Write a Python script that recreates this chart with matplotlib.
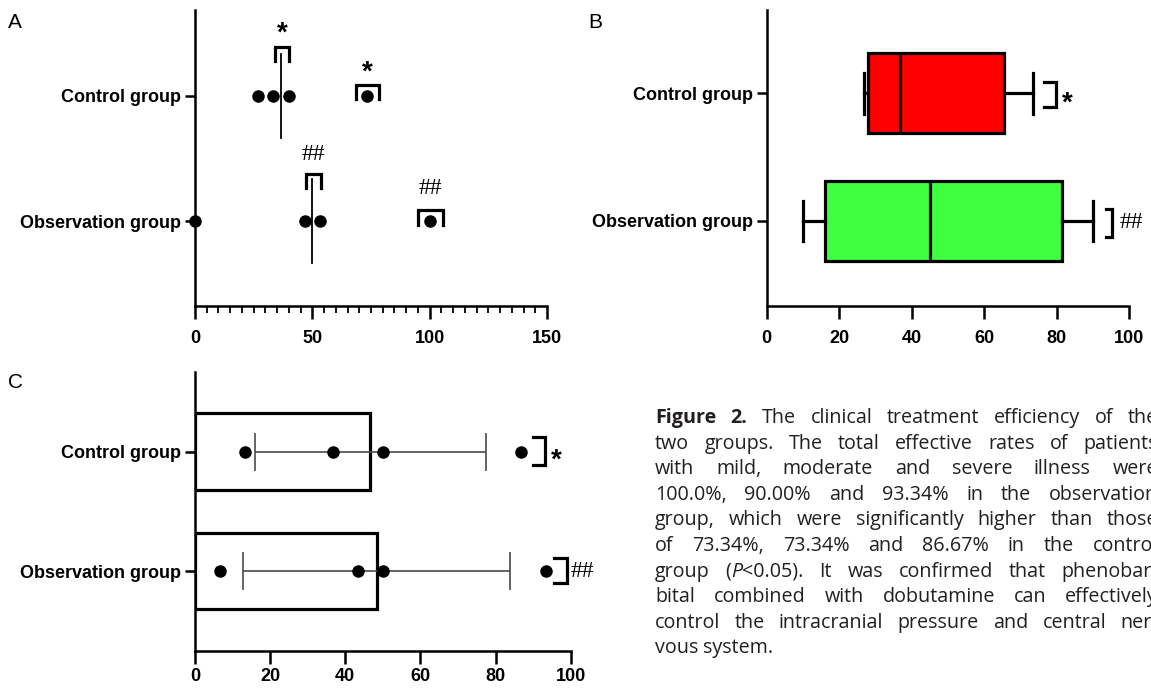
import re
import numpy as np
import matplotlib
matplotlib.use("Agg")
import matplotlib.pyplot as plt
from matplotlib.ticker import MultipleLocator

# Tamaño de la figura en píxeles
W, H = 1151, 688

# Datos
grupos = ["Observation group", "Control group"]   # y = 0, 1

# Panel A: puntos por grupo
a_control = [26.7, 33.3, 40.0, 73.3]
a_observacion = [0.0, 46.7, 53.3, 100.0]

# Panel B: estadísticos de caja
b_control = dict(whislo=26.7, q1=27.8, med=36.7, q3=65.5, whishi=73.4)
b_observacion = dict(whislo=10.0, q1=16.2, med=45.0, q3=81.4, whishi=90.0)

# Panel C: puntos, barra = media, error = SD
c_control = [13.3, 36.7, 50.0, 86.7]
c_observacion = [6.7, 43.3, 50.0, 93.3]

# Anotaciones (x0, x1, y_arriba, y_abajo) y signos (texto, x, y)
a_corchetes = [(34.3, 40.0, 1.394, 1.28), (68.7, 78.2, 1.088, 0.976),
               (47.2, 53.8, 0.376, 0.264), (95.0, 105.5, 0.088, -0.032)]
a_signos = [("*", 37.1, 1.544), ("*", 73.3, 1.234),
            ("##", 50.3, 0.528), ("##", 100.2, 0.264)]
b_corchetes = [(76.5, 79.8, 1.086, 0.895), (93.6, 95.2, 0.094, -0.123)]
b_signos = [("*", 81.5, 0.96), ("##", 97.2, -0.01)]
c_corchetes = [(89.9, 93.2, 1.126, 0.889), (95.6, 99.1, 0.106, -0.103)]
c_signos = [("*", 94.8, 0.972), ("##", 100.0, 0.0)]

leyenda = [
    "**Figure** **2.** The clinical treatment efficiency of the",
    "two groups. The total effective rates of patients",
    "with mild, moderate and severe illness were",
    "100.0%, 90.00% and 93.34% in the observation",
    "group, which were significantly higher than those",
    "of 73.34%, 73.34% and 86.67% in the control",
    "group (_P_<0.05). It was confirmed that phenobar-",
    "bital combined with dobutamine can effectively",
    "control the intracranial pressure and central ner-",
    "vous system.",
]

plt.rcParams['font.family'] = ['Liberation Sans', 'DejaVu Sans']
LW = 1.8

fig = plt.figure(figsize=(W / 100, H / 100), dpi=100)


def ejes_px(l, t, r, b):
    return fig.add_axes([l / W, 1 - b / H, (r - l) / W, (b - t) / H])


def estilo(ax, xlim, ylim, pad_x=8):
    ax.set_xlim(*xlim)
    ax.set_ylim(*ylim)
    for s in ['top', 'right']:
        ax.spines[s].set_visible(False)
    for s in ['left', 'bottom']:
        ax.spines[s].set_linewidth(LW)
    ax.set_yticks([0, 1])
    ax.set_yticklabels(grupos)
    ax.tick_params(axis='y', length=7, width=LW, pad=3, labelsize=13)
    ax.tick_params(axis='x', which='major', length=9, width=LW, pad=pad_x, labelsize=13)
    for lab in ax.get_xticklabels() + ax.get_yticklabels():
        lab.set_fontweight('bold')


def corchete_arriba(ax, x0, x1, yt, yb):
    ax.plot([x0, x0, x1, x1], [yb, yt, yt, yb], color='black', lw=2.3,
            solid_joinstyle='miter', clip_on=False)


def corchete_derecha(ax, x0, x1, yt, yb):
    ax.plot([x0, x1, x1, x0], [yt, yt, yb, yb], color='black', lw=2.3,
            solid_joinstyle='miter', clip_on=False)


def signo(ax, s, x, y, ha='center'):
    if s == "*":
        ax.annotate(s, (x, y), xytext=(0, -4), textcoords='offset points',
                    ha=ha, va='center', fontsize=20, fontweight='bold',
                    family=['Liberation Sans', 'DejaVu Sans'], annotation_clip=False)
    else:
        ax.annotate(s, (x, y), xytext=(0, 0), textcoords='offset points',
                    ha=ha, va='center', fontsize=17,
                    family=['Liberation Serif', 'DejaVu Serif'], annotation_clip=False)


# ---------------- Panel A ----------------
ax_a = ejes_px(195, 10, 547, 306)
for y, pts in [(1, a_control), (0, a_observacion)]:
    ax_a.plot(pts, [y] * len(pts), 'o', color='black', ms=8, clip_on=False, zorder=3)
    med = np.median(pts)
    ax_a.plot([med, med], [y - 0.336, y + 0.336], color='black', lw=1.3)
for c in a_corchetes:
    corchete_arriba(ax_a, *c)
for s, x, y in a_signos:
    signo(ax_a, s, x, y)
estilo(ax_a, (0, 150), (-0.68, 1.688))
ax_a.set_xticks([0, 50, 100, 150])
ax_a.xaxis.set_minor_locator(MultipleLocator(5))
ax_a.tick_params(axis='x', which='minor', length=5, width=1.3)
for lab in ax_a.get_xticklabels():
    lab.set_fontweight('bold')

# ---------------- Panel B ----------------
ax_b = ejes_px(766.7, 10, 1129.3, 306)
cajas = ax_b.bxp([b_observacion, b_control], positions=[0, 1], orientation='horizontal',
                 widths=0.63, capwidths=0.32, patch_artist=True, showfliers=False,
                 boxprops=dict(linewidth=2.3, edgecolor='black'),
                 whiskerprops=dict(linewidth=2.3, color='black'),
                 capprops=dict(linewidth=2.3, color='black'),
                 medianprops=dict(linewidth=2.3, color='black'))
for caja, col in zip(cajas['boxes'], ['#40ff40', '#ff0000']):
    caja.set_facecolor(col)
for c in b_corchetes:
    corchete_derecha(ax_b, *c)
signo(ax_b, "*", *b_signos[0][1:], ha='left')
signo(ax_b, "##", *b_signos[1][1:], ha='left')
estilo(ax_b, (0, 100), (-0.666, 1.652))
ax_b.set_xticks([0, 20, 40, 60, 80, 100])
for lab in ax_b.get_xticklabels():
    lab.set_fontweight('bold')

# ---------------- Panel C ----------------
ax_c = ejes_px(195, 372, 570.7, 650.7)
medias = [np.mean(c_observacion), np.mean(c_control)]
sds = [np.std(c_observacion, ddof=1), np.std(c_control, ddof=1)]
ax_c.barh([0, 1], medias, height=0.645, fill=False, edgecolor='black', linewidth=2.3)
ax_c.errorbar(medias, [0, 1], xerr=sds, fmt='none', ecolor='#4a4a4a',
              elinewidth=1.2, capsize=14, capthick=1.2)
for y, pts in [(1, c_control), (0, c_observacion)]:
    ax_c.plot(pts, [y] * len(pts), 'o', color='black', ms=8, clip_on=False, zorder=3)
for c in c_corchetes:
    corchete_derecha(ax_c, *c)
signo(ax_c, "*", *c_signos[0][1:], ha='left')
signo(ax_c, "##", *c_signos[1][1:], ha='left')
estilo(ax_c, (0, 100), (-0.668, 1.668), pad_x=3.5)
ax_c.set_xticks([0, 20, 40, 60, 80, 100])
for lab in ax_c.get_xticklabels():
    lab.set_fontweight('bold')

# Letras de panel
for letra, x, y in [("A", 8, 28), ("B", 588, 28), ("C", 8, 388)]:
    fig.text(x / W, 1 - y / H, letra, fontsize=15, va='baseline',
             family=['Liberation Sans', 'DejaVu Sans'])

# ---------------- Leyenda justificada ----------------
fig.canvas.draw()
rend = fig.canvas.get_renderer()
cap_kw = dict(fontsize=14.2, color='#231f20', va='baseline',
              family=['Open Sans', 'Liberation Sans', 'DejaVu Sans'])


def piezas(palabra):
    out = []
    for seg in re.split(r'(\*\*[^*]+\*\*|_[^_]+_)', palabra):
        if not seg:
            continue
        if seg.startswith('**'):
            out.append((seg[2:-2], dict(fontweight='bold')))
        elif seg.startswith('_'):
            out.append((seg[1:-1], dict(fontstyle='italic')))
        else:
            out.append((seg, {}))
    return out


def ancho(txt, extra):
    t = fig.text(0, 0, txt, **cap_kw, **extra)
    w = t.get_window_extent(rend).width
    t.remove()
    return w


x_ini, x_fin = 655, 1158
base0, paso = 423, 25.6
for i, linea in enumerate(leyenda):
    palabras = [piezas(p) for p in linea.split()]
    anchos = [[ancho(s, e) for s, e in p] for p in palabras]
    total = sum(sum(a) for a in anchos)
    if i == len(leyenda) - 1:
        hueco = 5.0
    else:
        hueco = (x_fin - x_ini - total) / (len(palabras) - 1)
    x = x_ini
    yb = 1 - (base0 + i * paso) / H
    for p, a in zip(palabras, anchos):
        for (s, e), w in zip(p, a):
            fig.text(x / W, yb, s, **cap_kw, **e)
            x += w
        x += hueco

fig.savefig("out.png", dpi=100)
